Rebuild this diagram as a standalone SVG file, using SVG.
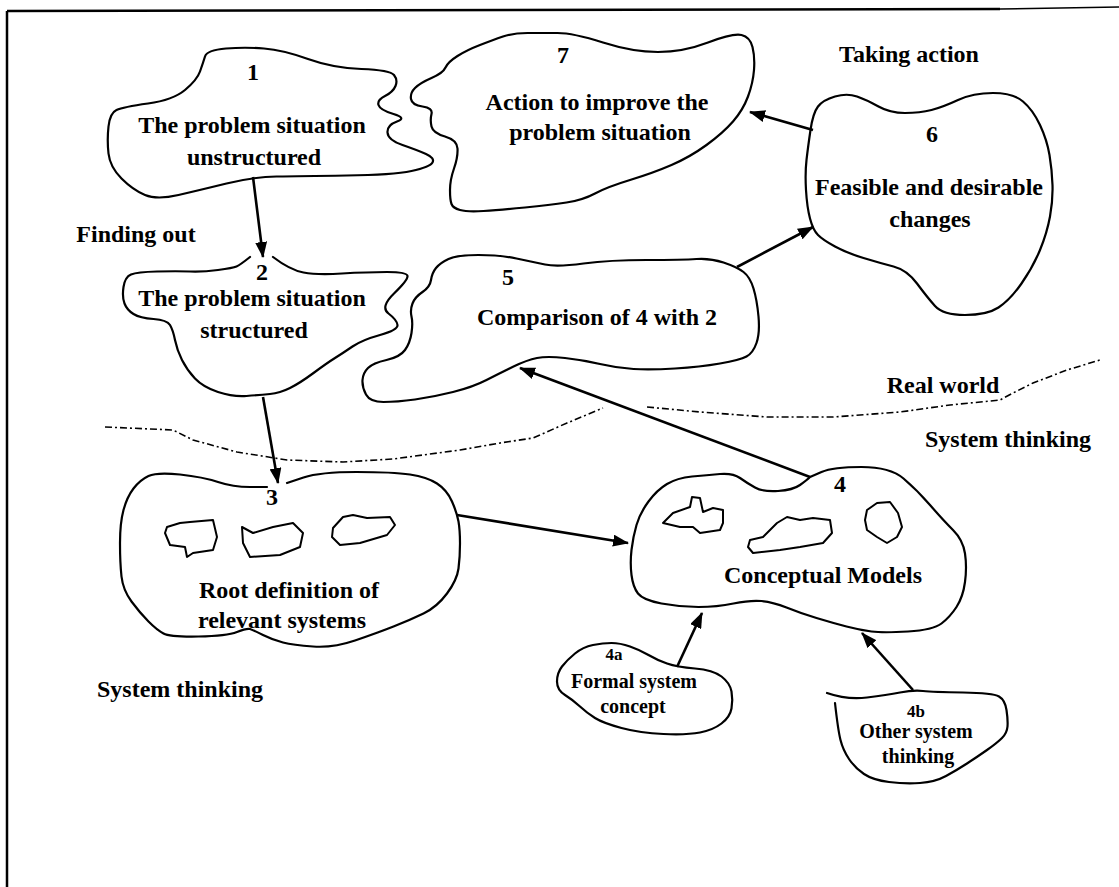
<svg xmlns="http://www.w3.org/2000/svg" width="1119" height="887" viewBox="0 0 1119 887">
<style>
.n{fill:#fff;stroke:#000;stroke-width:2.2;stroke-linejoin:round;stroke-linecap:round}
.b{fill:none;stroke:#000;stroke-width:2;stroke-linejoin:round}
.t{font-family:"Liberation Serif","Times New Roman",serif;font-weight:bold;font-size:24px;text-anchor:middle;fill:#000}
.s{font-size:20px}
.d{font-size:17px}
.c{fill:none;stroke:#000;stroke-width:2.6;marker-end:url(#ah)}
.dot{fill:none;stroke:#000;stroke-width:1.6;stroke-dasharray:7 3 2 3}
</style>
<defs>
<marker id="ah" viewBox="0 0 16 12" refX="15" refY="6" markerWidth="16" markerHeight="12" markerUnits="userSpaceOnUse" orient="auto">
<path d="M0,0 L16,6 L0,12 z" fill="#000"/>
</marker>
</defs>
<rect width="1119" height="887" fill="#fff"/>
<g id="frame">
<path d="M7,11 L7,887" stroke="#000" stroke-width="2.5" fill="none"/>
<path d="M7,11 L1000,9" stroke="#000" stroke-width="2.5" fill="none"/>
<path d="M1000,9 L1119,7" stroke="#000" stroke-width="1.4" fill="none"/>
</g>
<g id="boundary">
<path class="dot" d="M105,427 L173,430 L193,440 L237,452 L287,460 L343,462 L393,459 L460,450 L500,443 L533,438 L567,423 L603,408"/>
<path class="dot" d="M647,407 L700,412 L767,417 L833,417 L900,412 L950,405 L1000,400 L1013,393 L1033,383 L1067,370 L1100,360"/>
</g>
<g id="node1">
<path class="n" d="M205,56.5 Q207,50 226,48.5 Q245,47 264,48.5 Q283,50 308,59 Q333,68 361.5,69 Q390,70 394,75 Q398,80 395.5,86 Q393,92 385,96 Q377,100 378.5,105 Q380,110 393.5,114 Q407,118 397,121.5 Q387,125 387.5,132.5 Q388,140 402.5,145 Q417,150 426,154 Q435,158 432.5,162.5 Q430,167 411.5,171 Q393,175 346.5,175.5 Q300,176 276.5,176.5 Q253,177 226.5,183.5 Q200,190 178.5,195 Q157,200 145,195 Q133,190 121.5,178.5 Q110,167 108.5,153.5 Q107,140 108.5,126.5 Q110,113 116.5,110 Q123,107 148,103.5 Q173,100 185,90 Q197,80 200,71.5 Q203,63 205,56.5 Z"/>
<text class="t" x="253" y="80">1</text>
<text class="t" x="252" y="133">The problem situation</text>
<text class="t" x="254" y="165">unstructured</text>
</g>
<g id="node7">
<path class="n" d="M527.5,33 Q542,33 557.5,33 Q573,33 603,42.5 Q633,52 658,52 Q683,52 708,42.5 Q733,33 741.5,35 Q750,37 752.5,47 Q755,57 754,70 Q753,83 748,96.5 Q743,110 733,121.5 Q723,133 706.5,145 Q690,157 671.5,165 Q653,173 630,180 Q607,187 595,193.5 Q583,200 566.5,202.5 Q550,205 525,207.5 Q500,210 483.5,211 Q467,212 460,210 Q453,208 451.5,204 Q450,200 450,190 Q450,180 454,168.5 Q458,157 457.5,148.5 Q457,140 445,136.5 Q433,133 431.5,126.5 Q430,120 431.5,114 Q433,108 422.5,106.5 Q412,105 411,99 Q410,93 415,88 Q420,83 431.5,78 Q443,73 445.5,67.5 Q448,62 457.5,56 Q467,50 480,45 Q493,40 503,36.5 Q513,33 527.5,33 Z"/>
<text class="t" x="563" y="63">7</text>
<text class="t" x="597" y="110">Action to improve the</text>
<text class="t" x="600" y="140">problem situation</text>
</g>
<g id="node6">
<path class="n" d="M810.5,130 Q813,113 818,106.5 Q823,100 835,96.5 Q847,93 857,96.5 Q867,100 878.5,106.5 Q890,113 905,113 Q920,113 931.5,110 Q943,107 958,100 Q973,93 993,93 Q1013,93 1023,101.5 Q1033,110 1040,125 Q1047,140 1049.5,155 Q1052,170 1052.5,185 Q1053,200 1050,216.5 Q1047,233 1040,250 Q1033,267 1021.5,283.5 Q1010,300 998.5,307.5 Q987,315 965,315 Q943,315 935,306 Q927,297 917,283.5 Q907,270 893.5,266.5 Q880,263 863.5,258 Q847,253 835,246.5 Q823,240 818,235 Q813,230 810,218.5 Q807,207 806,190 Q805,173 806.5,160 Q808,147 810.5,130 Z"/>
<text class="t" x="932" y="142">6</text>
<text class="t" x="929" y="195">Feasible and desirable</text>
<text class="t" x="930" y="227">changes</text>
</g>
<g id="node2">
<path class="n" d="M250,257 Q240,265 236.5,266.5 Q233,268 218,270 Q203,272 190,271.5 Q177,271 157,271.5 Q137,272 131,274.5 Q125,277 123.5,287 Q122,297 124.5,303.5 Q127,310 133.5,314 Q140,318 153.5,319 Q167,320 170,325 Q173,330 175,340 Q177,350 182,360 Q187,370 195,378.5 Q203,387 218,392 Q233,397 246.5,396 Q260,395 270,394 Q280,393 290,388 Q300,383 313.5,373 Q327,363 335,358 Q343,353 352.5,346.5 Q362,340 380,335 Q398,330 397.5,325 Q397,320 388.5,313.5 Q380,307 394,293.5 Q408,280 407.5,276 Q407,272 387,272 Q367,272 342,273.5 Q317,275 303.5,272.5 Q290,270 273,257"/>
<text class="t" x="262" y="280">2</text>
<text class="t" x="252" y="306">The problem situation</text>
<text class="t" x="254" y="338">structured</text>
</g>
<g id="node5">
<path class="n" d="M743.5,272 Q737,267 723.5,262.5 Q710,258 696.5,259 Q683,260 646.5,260 Q610,260 583.5,263.5 Q557,267 545,264.5 Q533,262 516.5,258.5 Q500,255 478.5,255 Q457,255 448.5,259 Q440,263 436,268 Q432,273 431,280 Q430,287 422.5,292 Q415,297 412.5,303.5 Q410,310 411.5,316.5 Q413,323 411.5,333 Q410,343 405,350 Q400,357 386.5,360 Q373,363 368,368 Q363,373 362.5,380 Q362,387 366,394.5 Q370,402 383.5,402 Q397,402 415,399.5 Q433,397 453,392 Q473,387 486.5,380 Q500,373 513.5,366.5 Q527,360 537,358 Q547,356 565,358 Q583,360 600,364 Q617,368 633.5,369 Q650,370 675,368.5 Q700,367 720,363.5 Q740,360 746.5,356.5 Q753,353 756.5,343 Q760,333 758.5,316.5 Q757,300 753.5,288.5 Q750,277 743.5,272 Z"/>
<text class="t" x="508" y="285">5</text>
<text class="t" x="597" y="325">Comparison of 4 with 2</text>
</g>
<g id="node3">
<path class="n" d="M267,487 L250,487 Q233,487 218,482 Q203,477 180,474.5 Q157,472 148.5,476 Q140,480 133.5,488.5 Q127,497 123.5,510 Q120,523 120,543 Q120,563 121.5,576.5 Q123,590 131.5,601.5 Q140,613 148.5,621.5 Q157,630 163.5,633.5 Q170,637 198.5,636.5 Q227,636 237,632 Q247,628 250,629 Q253,630 263,635 Q273,640 283,642.5 Q293,645 313,646.5 Q333,648 355,640.5 Q377,633 393.5,626.5 Q410,620 423.5,613.5 Q437,607 447,593.5 Q457,580 458.5,568.5 Q460,557 460,543.5 Q460,530 458.5,521.5 Q457,513 452,501.5 Q447,490 437,483.5 Q427,477 410,474.5 Q393,472 356.5,472 Q320,472 303.5,477.5 L287,483"/>
<path class="b" d="M167,527 L180,523 L190,522 L213,520 L217,537 L213,550 L193,553 L187,557 L185,547 L170,545 L165,533 Z"/>
<path class="b" d="M242,527 L253,533 L273,527 L293,523 L303,533 L300,547 L280,555 L250,557 L243,543 Z"/>
<path class="b" d="M333,528 L343,517 L353,515 L367,518 L390,517 L395,525 L387,535 L360,543 L340,545 L332,537 Z"/>
<text class="t" x="272" y="505">3</text>
<text class="t" x="289" y="598">Root definition of</text>
<text class="t" x="282" y="628">relevant systems</text>
</g>
<g id="node4">
<path class="n" d="M810,477 L821.5,472 Q833,467 861.5,467 Q890,467 903.5,478.5 Q917,490 930,505 Q943,520 953,530 Q963,540 965,553.5 Q967,567 965,582 Q963,597 956.5,607 Q950,617 941.5,623.5 Q933,630 908,631.5 Q883,633 871.5,631.5 Q860,630 846.5,626.5 Q833,623 816.5,618 Q800,613 786.5,607.5 Q773,602 761.5,601 Q750,600 733.5,603.5 Q717,607 698.5,607 Q680,607 661.5,603.5 Q643,600 638,593.5 Q633,587 631.5,575 Q630,563 631.5,550 Q633,537 636.5,525 Q640,513 648.5,501.5 Q657,490 667,484 Q677,478 692,476.5 Q707,475 720,474 Q733,473 740,478 Q747,483 755,487.5 Q763,492 778,491 Q793,490 800,485 Q807,480 810,477 Z"/>
<path class="b" d="M663,523 L673,513 L690,507 L692,497 L700,498 L703,512 L713,508 L723,510 L723,523 L720,530 L700,533 L693,527 L680,527 Z"/>
<path class="b" d="M750,540 L763,537 L777,523 L787,517 L800,520 L813,518 L830,520 L832,533 L823,543 L800,547 L780,550 L753,553 L748,547 Z"/>
<path class="b" d="M867,510 L877,503 L890,502 L898,513 L902,527 L897,537 L887,543 L877,537 L867,530 L865,520 Z"/>
<text class="t" x="840" y="492">4</text>
<text class="t" x="823" y="583">Conceptual Models</text>
</g>
<g id="node4a">
<path class="n" d="M593,645 Q603,643 611.5,643 Q620,643 630,646.5 Q640,650 648.5,655 Q657,660 667,663.5 Q677,667 695,668.5 Q713,670 721.5,676.5 Q730,683 731.5,691.5 Q733,700 731.5,708.5 Q730,717 721.5,723.5 Q713,730 700,732.5 Q687,735 663.5,734 Q640,733 621.5,728 Q603,723 595,718 Q587,713 580,706.5 Q573,700 565,695 Q557,690 557,681.5 Q557,673 562,666.5 Q567,660 575,653.5 Q583,647 593,645 Z"/>
<text class="t d" x="614" y="660">4a</text>
<text class="t s" x="634" y="688">Formal system</text>
<text class="t s" x="633" y="713">concept</text>
</g>
<g id="node4b">
<path class="n" d="M827,693 Q847,700 867,697.5 Q887,695 900,692.5 Q913,690 923,691 Q933,692 963,692.5 Q993,693 999,696.5 Q1005,700 1006.5,710 Q1008,720 1007.5,726.5 Q1007,733 1002,738 Q997,743 987,750 Q977,757 967,763.5 Q957,770 946,776 Q935,782 920,783 Q905,784 889,782 Q873,780 864,774 Q855,768 849,759 Q843,750 840.5,740 Q838,730 835,703"/>
<text class="t d" x="916" y="717">4b</text>
<text class="t s" x="916" y="738">Other system</text>
<text class="t s" x="918" y="763">thinking</text>
</g>
<g id="labels">
<text class="t" x="909" y="62">Taking action</text>
<text class="t" x="136" y="242">Finding out</text>
<text class="t" x="943" y="393">Real world</text>
<text class="t" x="1008" y="447">System thinking</text>
<text class="t" x="180" y="697">System thinking</text>
</g>
<g id="connectors">
<path class="c" d="M253,177 L263,257"/>
<path class="c" d="M263,397 L278,483"/>
<path class="c" d="M457,515 L628,543"/>
<path class="c" d="M810,477 L520,368"/>
<path class="c" d="M677,667 L702,613"/>
<path class="c" d="M913,690 L862,633"/>
<path class="c" d="M737,267 L813,227"/>
<path class="c" d="M813,130 L750,112"/>
</g>
</svg>
